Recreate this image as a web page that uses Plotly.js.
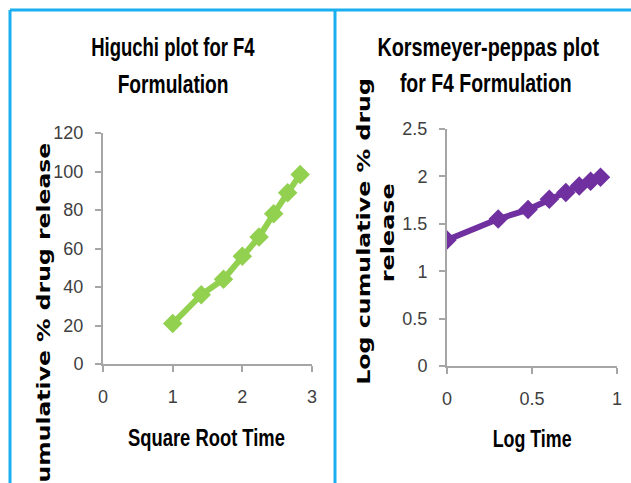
<!DOCTYPE html>
<html>
<head>
<meta charset="utf-8">
<script src="https://cdn.plot.ly/plotly-3.0.1.min.js"></script>
<style>
html, body { margin: 0; padding: 0; background: #fff; }
#chart { width: 631px; height: 483px; }
</style>
</head>
<body>
<div id="chart"></div>
<script>
// ---- data ----
const higuchiX = [1, 1.41, 1.73, 2, 2.24, 2.45, 2.65, 2.83];
const higuchiY = [21, 36, 44, 56, 66, 78, 89, 98.5];
const kpX = [0, 0.301, 0.477, 0.602, 0.699, 0.778, 0.845, 0.903];
const kpY = [1.33, 1.55, 1.65, 1.76, 1.83, 1.9, 1.95, 1.99];

const leftTitle = ["Higuchi plot for F4", "Formulation"];
const rightTitle = ["Korsmeyer-peppas plot", "for F4 Formulation"];
const leftXTitle = "Square Root Time";
const rightXTitle = "Log Time";
const leftYTitle = "Cumulative % drug release";
const rightYTitle = ["Log cumulative % drug", "release"];

// ---- layout helpers (pixel -> paper) ----
const W = 631, H = 483;
const px = x => x / W;
const py = y => 1 - y / H;

const sans = "Liberation Sans, Arial, sans-serif";
const wide = "DejaVu Sans, Verdana, sans-serif";
const axisGray = "#a6a6a6";
const tickFont = { family: sans, size: 18, color: "#404040" };

function axisBase(extra) {
  return Object.assign({
    showline: true, linecolor: axisGray, linewidth: 2,
    ticks: "outside", ticklen: 6, tickwidth: 2, tickcolor: axisGray,
    showgrid: false, zeroline: false, tickfont: tickFont,
    fixedrange: true
  }, extra);
}

const traces = [
  {
    x: higuchiX, y: higuchiY, xaxis: "x", yaxis: "y",
    type: "scatter", mode: "lines+markers",
    line: { color: "#92D050", width: 6 },
    marker: { symbol: "diamond", size: 15, color: "#92D050" },
    hoverinfo: "skip"
  },
  {
    x: kpX, y: kpY, xaxis: "x2", yaxis: "y2",
    type: "scatter", mode: "lines+markers",
    line: { color: "#7030A0", width: 6 },
    marker: { symbol: "diamond", size: 15, color: "#7030A0" },
    hoverinfo: "skip"
  }
];

function ann(text, x, y, font, extra) {
  return Object.assign({
    text: text, x: px(x), y: py(y), xref: "paper", yref: "paper",
    showarrow: false, xanchor: "center", yanchor: "middle", font: font
  }, extra || {});
}

const titleFont = { family: sans, size: 26, color: "#000", weight: "bold" };
const axTitleFont = { family: sans, size: 24, color: "#000", weight: "bold" };
const yTitleFont = { family: wide, size: 18, color: "#000", weight: "bold" };

// text lengths measured on the reference (px), used to condense / stretch the text
const textLengths = {};
textLengths[leftTitle[0]] = 164;
textLengths[leftTitle[1]] = 111;
textLengths[rightTitle[0]] = 222;
textLengths[rightTitle[1]] = 172;
textLengths[leftXTitle] = 157;
textLengths[rightXTitle] = 79;
textLengths[leftYTitle] = 357;
textLengths[rightYTitle[0]] = 307;
textLengths[rightYTitle[1]] = 99;

const layout = {
  width: W, height: H,
  margin: { l: 0, r: 0, t: 0, b: 0 },
  paper_bgcolor: "#fff", plot_bgcolor: "rgba(0,0,0,0)",
  showlegend: false,
  xaxis: axisBase({ domain: [px(103), px(312)], range: [0, 3], dtick: 1, tick0: 0, anchor: "y", ticklabelstandoff: 9 }),
  yaxis: axisBase({ domain: [py(364), py(133)], range: [0, 120], dtick: 20, tick0: 0, anchor: "x", ticklabelstandoff: 8 }),
  xaxis2: axisBase({ domain: [px(447), px(617)], range: [0, 1], dtick: 0.5, tick0: 0, anchor: "y2", ticklabelstandoff: 9 }),
  yaxis2: axisBase({ domain: [py(366), py(129)], range: [0, 2.5], dtick: 0.5, tick0: 0, anchor: "x2", ticklabelstandoff: 8 }),
  shapes: [
    { type: "line", xref: "paper", yref: "paper", x0: px(10), x1: px(631), y0: py(10), y1: py(10), line: { color: "#1AB0F0", width: 3 } },
    { type: "line", xref: "paper", yref: "paper", x0: px(10), x1: px(10), y0: py(10), y1: py(483), line: { color: "#1AB0F0", width: 3 } },
    { type: "line", xref: "paper", yref: "paper", x0: px(335), x1: px(335), y0: py(10), y1: py(483), line: { color: "#1AB0F0", width: 3 } }
  ],
  annotations: [
    ann(leftTitle[0], 173, 47, titleFont),
    ann(leftTitle[1], 172.5, 84, titleFont),
    ann(rightTitle[0], 488, 47, titleFont),
    ann(rightTitle[1], 486, 83, titleFont),
    ann(leftXTitle, 206.5, 437, axTitleFont),
    ann(rightXTitle, 532, 438, axTitleFont),
    ann(leftYTitle, 43, 322, yTitleFont, { textangle: -90 }),
    ann(rightYTitle[0], 364, 232, yTitleFont, { textangle: -90 }),
    ann(rightYTitle[1], 388, 232, yTitleFont, { textangle: -90 })
  ]
};

Plotly.newPlot("chart", traces, layout, { displayModeBar: false, staticPlot: true }).then(() => {
  document.querySelectorAll("#chart .annotation-text").forEach(t => {
    const target = textLengths[t.textContent];
    if (!target) return;
    const w = t.getBBox().width;
    if (!w) return;
    t.style.transformBox = "fill-box";
    t.style.transformOrigin = "center";
    t.style.transform = "scaleX(" + (target / w) + ")";
  });
});
</script>
</body>
</html>
